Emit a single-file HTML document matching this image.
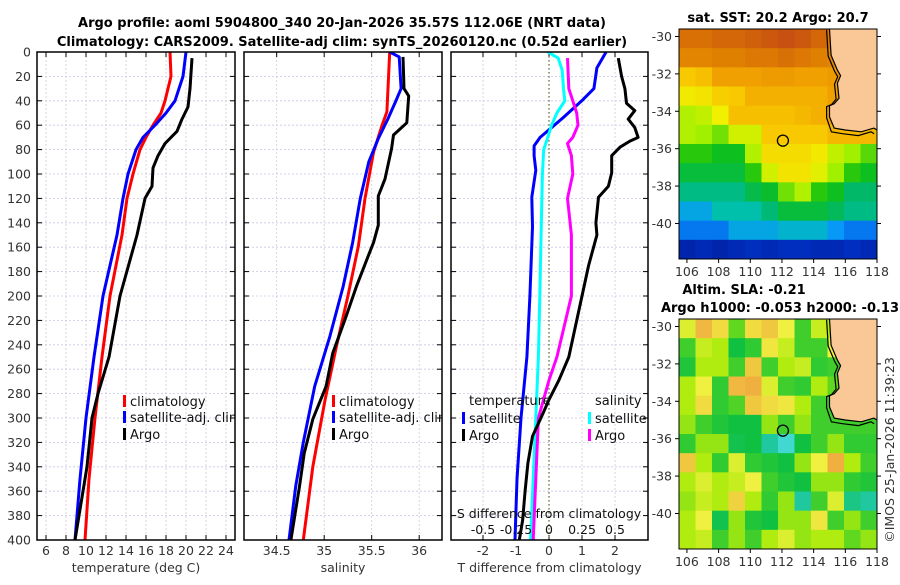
<!DOCTYPE html>
<html><head><meta charset="utf-8"><style>
html,body{margin:0;padding:0;background:#fff;}
svg text{font-family:"DejaVu Sans","Liberation Sans",sans-serif;}
</style></head><body>
<svg id="fig" width="900" height="580" viewBox="0 0 900 580" xmlns="http://www.w3.org/2000/svg">
<defs>
<clipPath id="c1"><rect x="37" y="52" width="198" height="488"/></clipPath>
<clipPath id="c2"><rect x="244" y="52" width="198" height="488"/></clipPath>
<clipPath id="c3"><rect x="451" y="52" width="197" height="488"/></clipPath>
<clipPath id="cm1"><rect x="679" y="29" width="198" height="230"/></clipPath>
<clipPath id="cm2"><rect x="679" y="319" width="198" height="230"/></clipPath>
</defs>
<text x="342" y="27" text-anchor="middle" font-size="13" font-weight="bold">Argo profile: aoml 5904800_340 20-Jan-2026 35.57S 112.06E (NRT data)</text>
<text x="342" y="46" text-anchor="middle" font-size="13" font-weight="bold">Climatology: CARS2009. Satellite-adj clim: synTS_20260120.nc (0.52d earlier)</text>
<text x="778" y="22" text-anchor="middle" font-size="13" font-weight="bold">sat. SST: 20.2 Argo: 20.7</text>
<text x="744" y="294" text-anchor="middle" font-size="13" font-weight="bold">Altim. SLA: -0.21</text>
<text x="780" y="312" text-anchor="middle" font-size="13" font-weight="bold">Argo h1000: -0.053 h2000: -0.13</text>
<text transform="translate(894,450) rotate(-90)" text-anchor="middle" font-size="12.5" fill="#333">©IMOS 25-Jan-2026 11:39:23</text>
<g id="g"></g>
</svg>
<script>
// ---------- profile data (depth in m) ----------
const tDepth = [0,20,40,50,60,70,80,100,120,150,200,250,300,350,400];
const tClim  = [18.4,18.5,17.9,17.5,16.7,16.0,15.4,14.7,14.1,13.6,12.4,11.6,10.9,10.3,9.9];
const tSat   = [20.0,19.7,18.9,18.0,16.9,15.7,15.0,14.2,13.7,13.1,11.7,10.8,10.0,9.4,8.9];
const tArgoDepth = [5,30,45,55,65,75,85,95,110,120,135,150,200,250,280,300,340,380,400];
const tArgo = [20.6,20.4,20.2,19.6,19.1,17.9,17.2,16.7,16.6,15.9,15.5,15.1,13.4,12.3,11.2,10.6,10.1,9.3,8.9];

const sClimDepth = [0,49,60,82,120,159,200,241,285,340,400];
const sClim  = [35.69,35.66,35.61,35.52,35.43,35.36,35.25,35.13,35.01,34.88,34.78];
const sSatDepth = [0,4,30,41,55,71,90,120,156,192,233,274,320,356,400];
const sSat   = [35.69,35.79,35.81,35.75,35.67,35.57,35.47,35.38,35.30,35.20,35.06,34.90,34.78,34.70,34.63];
const sArgoDepth = [4,30,36,58,68,79,104,118,142,156,170,192,219,247,274,301,329,356,400];
const sArgo  = [35.83,35.84,35.89,35.87,35.73,35.71,35.64,35.57,35.57,35.52,35.45,35.34,35.22,35.09,35.02,34.88,34.79,34.74,34.65];

const dtSatDepth = [0,13,30,39,54,70,77,85,97,119,143,200,250,300,350,400];
const dtSat = [1.73,1.45,1.36,1.03,0.42,-0.27,-0.45,-0.45,-0.40,-0.52,-0.50,-0.58,-0.67,-0.85,-0.97,-1.03];
const dtArgoDepth = [5,20,30,42,48,55,62,70,73,78,85,99,110,119,140,150,175,200,225,250,269,285,296,315,337,359,384,400];
const dtArgo = [2.1,2.2,2.3,2.35,2.6,2.4,2.6,2.7,2.45,2.15,1.9,1.9,1.8,1.5,1.42,1.45,1.2,1.0,0.8,0.6,0.3,0.0,-0.18,-0.5,-0.64,-0.72,-0.8,-0.9];
const dsSatDepth = [0,5,15,30,40,50,60,70,80,100,150,200,250,300,350,400];
const dsSat = [-0.01,0.07,0.10,0.11,0.12,0.06,0.02,-0.01,-0.04,-0.05,-0.06,-0.07,-0.08,-0.10,-0.12,-0.14];
const dsArgoDepth = [5,30,40,50,60,70,75,85,100,120,150,200,250,269,300,350,400];
const dsArgo = [0.14,0.15,0.18,0.21,0.22,0.18,0.14,0.17,0.18,0.14,0.17,0.17,0.06,0.0,-0.08,-0.10,-0.12];

const tTicks = [6,8,10,12,14,16,18,20,22,24];
const sTicks = [34.5,35,35.5,36];
const dtTicks = [-2,-1,0,1,2];
const dsTicks = [-0.5,-0.25,0,0.25,0.5];
const dsTickLabels = ["-0.5","-0.25","0","0.25","0.5"];
const depthTicks = [0,20,40,60,80,100,120,140,160,180,200,220,240,260,280,300,320,340,360,380,400];

// ---------- map data ----------
const mapLonTicks = [106,108,110,112,114,116,118];
const mapLatTicks = [-30,-32,-34,-36,-38,-40];
const sstGrid = [
 [21.6,21.6,21.7,21.7,21.8,21.9,22.0,21.9,21.7,21.5,21.5,21.5],
 [21.3,21.3,21.4,21.4,21.5,21.5,21.6,21.5,21.4,21.3,21.3,21.3],
 [20.3,20.4,20.8,20.8,20.8,20.9,20.9,20.8,20.8,20.9,21.0,21.0],
 [19.8,19.9,20.2,20.3,20.6,20.6,20.6,20.6,20.6,20.8,20.8,20.8],
 [19.3,19.4,19.7,20.4,20.4,20.4,20.4,20.5,20.6,20.8,20.8,20.8],
 [19.3,19.2,19.0,19.5,19.5,20.3,20.3,20.3,20.3,20.5,20.5,20.5],
 [18.7,18.7,18.5,18.5,19.3,20.0,20.0,20.0,19.8,19.4,19.2,18.9],
 [18.3,18.3,18.3,18.3,18.7,19.5,19.9,19.9,19.6,19.2,18.7,18.5],
 [17.8,17.8,17.8,17.8,18.2,18.4,19.0,19.3,18.7,18.5,18.0,18.0],
 [17.0,17.0,17.5,17.5,17.5,17.9,18.3,18.3,18.3,18.1,17.8,17.8],
 [16.5,16.5,16.5,17.0,17.0,17.0,17.2,17.2,17.2,16.8,16.5,16.5],
 [15.5,15.6,15.5,15.6,15.7,15.6,15.7,15.7,15.6,15.6,15.7,15.6]
];
const slaGrid = [
 [0.05,0.12,0.08,0.00,0.08,0.10,0.06,-0.02,0.04,0.03,0.03,0.03],
 [-0.02,0.04,0.03,-0.05,-0.03,0.07,0.04,-0.02,-0.02,0.06,0.03,0.03],
 [-0.04,0.03,0.03,-0.02,0.10,-0.02,0.03,0.04,-0.03,-0.02,0.0,0.0],
 [0.03,0.06,-0.03,0.12,0.13,0.05,-0.02,-0.03,0.03,0.0,0.0,0.0],
 [0.03,0.08,-0.03,-0.01,0.10,0.08,0.07,0.03,-0.02,-0.02,0.0,0.0],
 [0.02,-0.02,-0.04,-0.05,-0.05,0.02,-0.02,0.02,-0.02,-0.02,-0.02,-0.02],
 [-0.03,0.02,0.02,-0.06,-0.05,-0.12,-0.20,-0.05,-0.02,0.02,-0.03,-0.03],
 [0.10,0.03,-0.03,0.05,-0.03,-0.04,-0.05,0.02,0.06,0.13,0.03,-0.02],
 [0.03,0.05,0.03,0.04,0.06,-0.02,-0.04,-0.05,0.02,0.02,-0.03,-0.04],
 [0.02,0.04,0.03,0.09,0.03,-0.03,0.02,-0.12,-0.02,0.05,-0.10,-0.12],
 [0.03,0.06,-0.06,0.02,-0.04,-0.05,0.02,0.02,0.07,-0.02,0.02,-0.02],
 [0.03,0.04,-0.02,0.02,-0.02,0.03,0.05,0.02,0.03,0.03,0.00,0.02]
];
const coastLon = [115.0,115.1,115.5,115.7,115.5,115.6,115.3,115.0,115.0,115.3,116.0,117.0,117.8,118.0];
const coastLat = [-29.6,-31.0,-31.8,-32.1,-32.5,-33.3,-33.6,-33.7,-34.3,-34.9,-35.0,-35.1,-34.9,-35.0];
const floatLon = 112.06, floatLat = -35.57;

const NS="http://www.w3.org/2000/svg";
const G=document.getElementById('g');
function mk(tag,attrs,parent){const e=document.createElementNS(NS,tag);for(const k in attrs)e.setAttribute(k,attrs[k]);(parent||G).appendChild(e);return e;}

const Y0=52,Y1=540;
const yD=d=>Y0+(d/400)*(Y1-Y0);
function lin(d0,d1,r0,r1){return v=>r0+(v-d0)/(d1-d0)*(r1-r0);}

function panel(name,x0,x1,xs,ticks,labels,clip,showY,xtitle){
  const grp=mk('g',{});
  
  
  mk('rect',{x:x0,y:Y0,width:x1-x0,height:Y1-Y0,fill:'#fff'},grp);
  depthTicks.forEach(d=>{
    const l=mk('line',{x1:x0,x2:x1,y1:yD(d),y2:yD(d),stroke:'#c4c8e6','stroke-width':0.8,'stroke-dasharray':'2,2'},grp);
    
    
    mk('line',{x1:x0,x2:x0+5,y1:yD(d),y2:yD(d),stroke:'#000'},grp);
    mk('line',{x1:x1-5,x2:x1,y1:yD(d),y2:yD(d),stroke:'#000'},grp);
    if(showY){const t=mk('text',{x:x0-6,y:yD(d)+4.5,'text-anchor':'end','font-size':12.5,fill:'#333'},grp);t.textContent=d;
      }
  });
  ticks.forEach((v,i)=>{
    const x=xs(v);
    const l=mk('line',{x1:x,x2:x,y1:Y0,y2:Y1,stroke:'#d8c8d8','stroke-width':0.8,'stroke-dasharray':'2,2'},grp);
    
    
    mk('line',{x1:x,x2:x,y1:Y1,y2:Y1-5,stroke:'#000'},grp);
    mk('line',{x1:x,x2:x,y1:Y0,y2:Y0+5,stroke:'#000'},grp);
    const t=mk('text',{x:x,y:555,'text-anchor':'middle','font-size':12.5,fill:'#333'},grp);t.textContent=labels?labels[i]:v;
    
  });
  const tt=mk('text',{x:(x0+x1)/2,y:572,'text-anchor':'middle','font-size':12.5,fill:'#333'},grp);tt.textContent=xtitle;
  
  return grp;
}
function series(name,grp,xs,vals,depths,color,clip){
  const pts=vals.map((v,i)=>xs(v).toFixed(1)+','+yD(depths[i]).toFixed(1)).join(' ');
  const p=mk('polyline',{points:pts,fill:'none',stroke:color,'stroke-width':3,'stroke-linejoin':'round','clip-path':'url(#'+clip+')'},grp);
  
  
}
function legend(grp,x,y,color,label,clip){
  const r=mk('rect',{x:x,y:y-6,width:3,height:12,fill:color},grp);
  
  
  const t=mk('text',{x:x+7,y:y+5,'font-size':13,fill:'#111','clip-path':'url(#'+clip+')'},grp);t.textContent=label;
  
  
}
function frame(grp,x0,x1){const f=mk('rect',{x:x0,y:Y0,width:x1-x0,height:Y1-Y0,fill:'none',stroke:'#000','stroke-width':1.5},grp);
  }

// Panel 1 temperature
const xT=lin(5.1,24.9,37,235);
const p1=panel('temperature-panel',37,235,xT,tTicks,null,'c1',true,'temperature (deg C)');
series('temp-climatology-line',p1,xT,tClim,tDepth,'#ff0000','c1');
series('temp-satellite-line',p1,xT,tSat,tDepth,'#0000ff','c1');
series('temp-argo-line',p1,xT,tArgo,tArgoDepth,'#000000','c1');
legend(p1,123,401,'#ff0000','climatology','c1');
legend(p1,123,417,'#0000ff','satellite-adj. clim','c1');
legend(p1,123,434,'#000000','Argo','c1');
frame(p1,37,235);

// Panel 2 salinity
const xS=lin(34.156,36.24,244,442);
const p2=panel('salinity-panel',244,442,xS,sTicks,null,'c2',false,'salinity');
series('sal-climatology-line',p2,xS,sClim,sClimDepth,'#ff0000','c2');
series('sal-satellite-line',p2,xS,sSat,sSatDepth,'#0000ff','c2');
series('sal-argo-line',p2,xS,sArgo,sArgoDepth,'#000000','c2');
legend(p2,332,401,'#ff0000','climatology','c2');
legend(p2,332,417,'#0000ff','satellite-adj. clim','c2');
legend(p2,332,434,'#000000','Argo','c2');
frame(p2,244,442);

// Panel 3 differences
const xDT=lin(-3,3,450,648);
const xDS=lin(-0.75,0.75,450,648);
const p3=panel('difference-panel',451,648,xDT,dtTicks,null,'c3',false,'T difference from climatology');
const z=mk('line',{x1:xDT(0),x2:xDT(0),y1:Y0,y2:Y1,stroke:'#556b2f','stroke-width':1.2,'stroke-dasharray':'1.5,2.5'},p3);


series('dT-satellite-line',p3,xDT,dtSat,dtSatDepth,'#0000ff','c3');
series('dS-satellite-line',p3,xDS,dsSat,dsSatDepth,'#00ffff','c3');
series('dS-argo-line',p3,xDS,dsArgo,dsArgoDepth,'#ff00ff','c3');
series('dT-argo-line',p3,xDT,dtArgo,dtArgoDepth,'#000000','c3');
dsTicks.forEach((v,i)=>{const t=mk('text',{x:xDS(v),y:534,'text-anchor':'middle','font-size':12.5,fill:'#111'},p3);t.textContent=dsTickLabels[i];
  });
const st=mk('text',{x:549,y:518,'text-anchor':'middle','font-size':12.5,fill:'#111'},p3);st.textContent='S difference from climatology';

const lt1=mk('text',{x:469,y:405,'font-size':13,fill:'#111'},p3);lt1.textContent='temperature';

const lt2=mk('text',{x:595,y:405,'font-size':13,fill:'#111'},p3);lt2.textContent='salinity';

legend(p3,462,418,'#0000ff','satellite','c3');
legend(p3,462,435,'#000000','Argo','c3');
legend(p3,588,418,'#00ffff','satellite','c3');
legend(p3,588,435,'#ff00ff','Argo','c3');
frame(p3,451,648);

// ---------- maps ----------
function hex(h){return [parseInt(h.slice(1,3),16),parseInt(h.slice(3,5),16),parseInt(h.slice(5,7),16)];}
function cmap(stops,v){
  if(v<=stops[0][0])return 'rgb('+hex(stops[0][1])+')';
  for(let i=1;i<stops.length;i++){if(v<=stops[i][0]){const a=hex(stops[i-1][1]),b=hex(stops[i][1]);const f=(v-stops[i-1][0])/(stops[i][0]-stops[i-1][0]);
    return 'rgb('+a.map((c,k)=>Math.round(c+(b[k]-c)*f)).join(',')+')';}}
  return 'rgb('+hex(stops[stops.length-1][1])+')';
}
const sstStops=[[15.2,'#00148c'],[16.0,'#0040e0'],[16.8,'#0898f8'],[17.4,'#00c0b8'],[18.0,'#00b868'],[18.6,'#10c010'],[19.2,'#a0f000'],[19.7,'#f0f000'],[20.3,'#f8c800'],[20.8,'#f0a000'],[21.4,'#e08000'],[22.0,'#c85010']];
const slaStops=[[-0.2,'#40d8d0'],[-0.12,'#20c8a0'],[-0.05,'#10c040'],[0.0,'#60d820'],[0.03,'#b0ec10'],[0.06,'#f0f040'],[0.1,'#f0c840'],[0.14,'#f0a840']];

function map(name,top,grid,stops,clip){
  const mx0=679,mx1=877,my0=top,my1=top+230;
  const lonX=lin(105.5,118,mx0,mx1);
  const latY=lin(-29.6,-41.9,my0,my1);
  const grp=mk('g',{});
  
  
  const nr=grid.length,nc=grid[0].length;
  const cw=(mx1-mx0)/nc,ch=(my1-my0)/nr;
  grid.forEach((row,r)=>row.forEach((v,c)=>{
    const cell=mk('rect',{x:(mx0+c*cw).toFixed(2),y:(my0+r*ch).toFixed(2),width:(cw+0.6).toFixed(2),height:(ch+0.6).toFixed(2),fill:cmap(stops,v),'clip-path':'url(#'+clip+')'},grp);
    
    
  }));
  let pts=coastLon.map((lo,i)=>lonX(lo).toFixed(1)+','+latY(coastLat[i]).toFixed(1));
  const land=mk('polygon',{points:pts.join(' ')+' '+mx1+','+latY(-35.0)+' '+mx1+','+my0,fill:'#f9c896',stroke:'none','clip-path':'url(#'+clip+')'},grp);
  
  
  const cl=mk('polyline',{points:pts.join(' '),fill:'none',stroke:'#000','stroke-width':1.2,'clip-path':'url(#'+clip+')'},grp);
  
  
  const iso=coastLon.map((lo,i)=>lonX(lo-0.18).toFixed(1)+','+latY(coastLat[i]-(coastLat[i]<-34.5?0.2:0.05)).toFixed(1));
  const il=mk('polyline',{points:iso.join(' '),fill:'none',stroke:'#000','stroke-width':1.2,'clip-path':'url(#'+clip+')'},grp);
  
  
  const m=mk('circle',{cx:lonX(floatLon),cy:latY(floatLat),r:5.5,fill:'none',stroke:'#000','stroke-width':1.3},grp);
  
  
  mk('rect',{x:mx0,y:my0,width:mx1-mx0,height:my1-my0,fill:'none',stroke:'#000','stroke-width':1},grp);
  mapLonTicks.forEach(lo=>{const x=lonX(lo);
    mk('line',{x1:x,x2:x,y1:my1,y2:my1+4,stroke:'#000'},grp);
    const t=mk('text',{x:x,y:my1+17,'text-anchor':'middle','font-size':12.5,fill:'#333'},grp);t.textContent=lo;
    });
  mapLatTicks.forEach(la=>{const y=latY(la);
    mk('line',{x1:mx0-4,x2:mx0,y1:y,y2:y,stroke:'#000'},grp);
    mk('line',{x1:mx1,x2:mx1+4,y1:y,y2:y,stroke:'#000'},grp);
    const t=mk('text',{x:mx0-7,y:y+4.5,'text-anchor':'end','font-size':12.5,fill:'#333'},grp);t.textContent=la;
    });
}
map('sst-map',29,sstGrid,sstStops,'cm1');
map('sla-map',319,slaGrid,slaStops,'cm2');
</script>
</body></html>
